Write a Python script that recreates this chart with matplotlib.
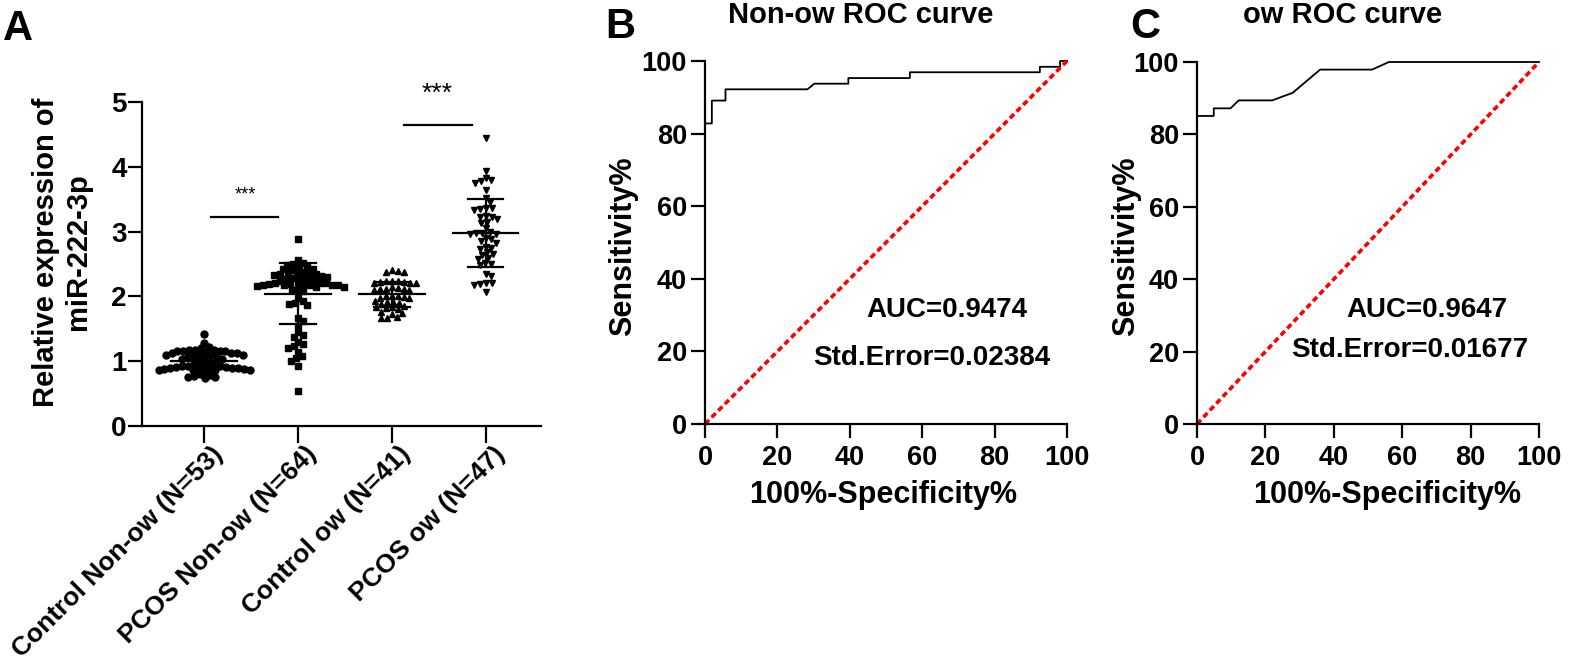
import numpy as np
import matplotlib
matplotlib.use("Agg")
import matplotlib.pyplot as plt
from matplotlib.transforms import ScaledTranslation

plt.rcParams["font.family"] = ["Liberation Sans", "Noto Sans CJK SC"]
plt.rcParams["font.weight"] = "bold"
plt.rcParams["axes.linewidth"] = 1.6

# panel A data
groups = ["Control Non-ow (N=53)", "PCOS Non-ow (N=64)", "Control ow (N=41)", "PCOS ow (N=47)"]
ctrl_non_ow = [1.42, 1.28, 1.22, 1.20, 1.18, 1.17, 1.17, 1.16, 1.16, 1.15, 1.15, 1.14, 1.13, 1.12, 1.12,
               1.11, 1.10, 1.10, 1.09, 1.08, 1.07, 1.06, 1.05, 1.04, 1.03, 1.01, 0.99, 0.97, 0.96, 0.94,
               0.93, 0.92, 0.92, 0.91, 0.91, 0.90, 0.90, 0.90, 0.89, 0.89, 0.88, 0.88, 0.87, 0.87, 0.86,
               0.86, 0.85, 0.80, 0.79, 0.77, 0.76, 0.75, 0.74]
pcos_non_ow = [2.89, 2.56, 2.52, 2.50, 2.48, 2.46, 2.45, 2.43, 2.42, 2.40, 2.38, 2.37, 2.36, 2.35, 2.34,
               2.33, 2.32, 2.31, 2.30, 2.29, 2.28, 2.27, 2.26, 2.25, 2.24, 2.22, 2.21, 2.20, 2.20, 2.19,
               2.19, 2.19, 2.18, 2.18, 2.18, 2.17, 2.17, 2.16, 2.15, 2.14, 2.12, 2.10, 2.08, 1.98, 1.93,
               1.90, 1.88, 1.86, 1.67, 1.62, 1.55, 1.45, 1.40, 1.38, 1.30, 1.26, 1.23, 1.20, 1.14, 1.08,
               1.05, 1.00, 0.93, 0.54]
ctrl_ow = [2.40, 2.39, 2.38, 2.37, 2.24, 2.23, 2.23, 2.22, 2.22, 2.21, 2.21, 2.20, 2.14, 2.13, 2.12,
           2.12, 2.11, 2.10, 2.10, 2.01, 2.00, 2.00, 1.99, 1.98, 1.97, 1.93, 1.92, 1.91, 1.90, 1.89,
           1.85, 1.84, 1.83, 1.82, 1.81, 1.76, 1.75, 1.73, 1.68, 1.67, 1.66]
pcos_ow = [4.45, 3.93, 3.83, 3.80, 3.78, 3.75, 3.64, 3.52, 3.45, 3.37, 3.36, 3.35, 3.34, 3.24, 3.23,
           3.22, 3.20, 3.15, 3.13, 3.05, 2.99, 2.98, 2.98, 2.97, 2.96, 2.90, 2.88, 2.85, 2.82, 2.77,
           2.75, 2.73, 2.68, 2.66, 2.64, 2.59, 2.57, 2.51, 2.50, 2.48, 2.34, 2.31, 2.21, 2.20, 2.19,
           2.18, 2.07]
group_means = [1.01, 2.04, 2.03, 2.98]
group_sds = [0.12, 0.47, 0.19, 0.53]
markers = ["o", "s", "^", "v"]

# ROC curves
roc_b_fpr = [0, 0, 1.89, 1.89, 5.66, 5.66, 28.3, 30.2, 39.6, 39.6, 56.6, 56.6, 92.5, 92.5, 98.1, 98.1, 100]
roc_b_tpr = [0, 82.8, 82.8, 89.1, 89.1, 92.2, 92.2, 93.75, 93.75, 95.3, 95.3, 96.9, 96.9, 98.4, 98.4, 100, 100]
roc_c_fpr = [0, 0, 4.9, 4.9, 9.8, 12.2, 22.0, 28.0, 36.0, 51.2, 56.1, 100]
roc_c_tpr = [0, 85.1, 85.1, 87.2, 87.2, 89.4, 89.4, 91.5, 97.9, 97.9, 100, 100]


def swarm(vals, d, sx, sy):
    # simple beeswarm offsets, worked out in pixels
    vals = np.asarray(vals)
    out = np.zeros(len(vals))
    placed = []
    for i in np.argsort(-vals):
        y = vals[i] * sy
        cands = [0.0]
        for px, py in placed:
            dy = abs(py - y)
            if dy < d:
                dx = np.sqrt(d ** 2 - dy ** 2)
                cands += [px + dx, px - dx]
        cands.sort(key=abs)
        for c in cands:
            if all((c - px) ** 2 + (y - py) ** 2 >= d ** 2 - 1e-6 for px, py in placed):
                out[i] = c
                break
        placed.append((out[i], y))
    return out / sx


fig = plt.figure(figsize=(15.94, 6.66), dpi=100)
W, H = 1594, 666

# ---- panel A
axA = fig.add_axes([142 / W, 1 - 426 / H, 399 / W, 324 / H])
data = [ctrl_non_ow, pcos_non_ow, ctrl_ow, pcos_ow]
for i, vals in enumerate(data):
    off = swarm(vals, 6.0, 94.0, 64.8)
    axA.plot(i + off, vals, linestyle="none", marker=markers[i], ms=5, color="black", clip_on=False)
    m, s = group_means[i], group_sds[i]
    axA.plot([i - 0.35, i + 0.35], [m, m], color="black", lw=1.6)
    axA.plot([i, i], [m - s, m + s], color="black", lw=1.6)
    axA.plot([i - 0.19, i + 0.19], [m + s, m + s], color="black", lw=1.6)
    axA.plot([i - 0.19, i + 0.19], [m - s, m - s], color="black", lw=1.6)

axA.plot([0.07, 0.79], [3.22, 3.22], color="black", lw=1.6)
axA.text(0.44, 3.56, "***", ha="center", va="center", fontsize=13, fontweight="normal")
axA.plot([2.13, 2.85], [4.65, 4.65], color="black", lw=1.6)
axA.text(2.48, 5.12, "***", ha="center", va="center", fontsize=19, fontweight="normal", clip_on=False)

axA.set_xlim(-0.66, 3.59)
axA.set_ylim(0, 5)
axA.set_yticks(range(6))
axA.set_xticks(range(4))
axA.set_xticklabels(groups, rotation=45, ha="right", rotation_mode="anchor")
axA.tick_params(axis="y", length=10, width=1.6, labelsize=20, pad=1)
axA.tick_params(axis="x", length=12, width=1.6, labelsize=19, pad=-5)
shift = ScaledTranslation(0.07, -0.06, fig.dpi_scale_trans)
for lab in axA.get_xticklabels():
    lab.set_transform(lab.get_transform() + shift)
for sp in ["top", "right"]:
    axA.spines[sp].set_visible(False)
fig.text(62 / W, 1 - 252 / H, "Relative expression of\nmiR-222-3p", rotation=90,
         ha="center", va="center", fontsize=21, linespacing=1.2)


def roc_panel(rect, fpr, tpr, title, tx, auc, se, xlab_x, auc_pos, se_pos, ylab_x):
    ax = fig.add_axes(rect)
    ax.plot(fpr, tpr, color="black", lw=1.3, clip_on=False)
    ax.plot([0, 100], [0, 100], color="red", lw=2.6, linestyle=(0, (1.6, 1.0)), clip_on=False)
    ax.set_xlim(0, 100)
    ax.set_ylim(0, 100)
    ax.set_xticks(range(0, 101, 20))
    ax.set_yticks(range(0, 101, 20))
    ax.tick_params(axis="x", length=10, width=1.6, labelsize=19.5, pad=5)
    ax.tick_params(axis="y", length=10, width=1.6, labelsize=19.5, pad=3)
    for sp in ["top", "right"]:
        ax.spines[sp].set_visible(False)
    fig.text(tx / W, 1 - 23 / H, title, ha="center", va="baseline", fontsize=21)
    fig.text(xlab_x / W, 1 - 495 / H, "100%-Specificity%", ha="center", va="center", fontsize=22)
    fig.text(ylab_x / W, 1 - 246 / H, "Sensitivity%", rotation=90, ha="center", va="center", fontsize=22)
    fig.text(auc_pos[0] / W, 1 - auc_pos[1] / H, auc, ha="center", va="baseline", fontsize=20)
    fig.text(se_pos[0] / W, 1 - se_pos[1] / H, se, ha="center", va="baseline", fontsize=20)
    return ax


roc_panel([705 / W, 1 - 424 / H, 362 / W, 363 / H], roc_b_fpr, roc_b_tpr, "Non-ow ROC curve", 861,
          "AUC=0.9474", "Std.Error=0.02384", 883, (947, 317), (932, 365), 623)
roc_panel([1197 / W, 1 - 424 / H, 342 / W, 362 / H], roc_c_fpr, roc_c_tpr, "ow ROC curve", 1343,
          "AUC=0.9647", "Std.Error=0.01677", 1387, (1427, 317), (1410, 357), 1126)

fig.text(3 / W, 1 - 40 / H, "A", fontsize=30, va="baseline")
fig.text(605 / W, 1 - 38 / H, "B", fontsize=30, va="baseline")
fig.text(1130 / W, 1 - 38 / H, "C", fontsize=30, va="baseline")

fig.savefig("out.png", dpi=100)
